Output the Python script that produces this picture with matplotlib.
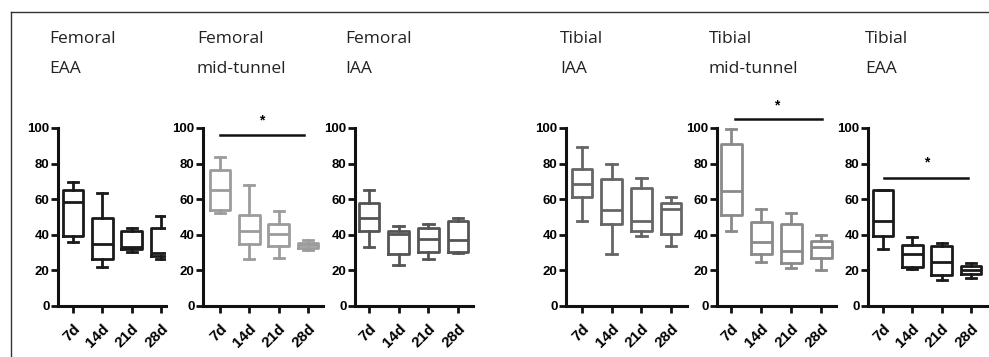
import matplotlib
matplotlib.use("Agg")
import matplotlib.pyplot as plt
from matplotlib.lines import Line2D

W, H = 989, 357

days = ["7d", "14d", "21d", "28d"]

titles = [("Femoral", "EAA"), ("Femoral", "mid-tunnel"), ("Femoral", "IAA"),
          ("Tibial", "IAA"), ("Tibial", "mid-tunnel"), ("Tibial", "EAA")]

# min, q1, median, q3, max for each day
fem_eaa = [(35.7, 39.3, 58.7, 65.4, 69.7),
           (22.0, 26.5, 34.6, 49.2, 63.6),
           (30.3, 31.8, 33.2, 42.0, 43.9),
           (26.5, 28.0, 29.5, 43.6, 50.3)]
fem_mid = [(52.3, 53.8, 65.2, 76.4, 83.9),
           (26.2, 34.6, 41.9, 51.2, 67.7),
           (27.1, 33.6, 40.2, 46.2, 53.3),
           (31.2, 32.7, 34.2, 35.5, 37.0)]
fem_iaa = [(33.0, 42.4, 49.7, 58.0, 65.0),
           (23.0, 29.0, 40.6, 42.0, 44.9),
           (26.2, 30.3, 37.9, 43.9, 46.2),
           (29.9, 30.5, 37.0, 47.5, 49.5)]
tib_iaa = [(47.8, 61.5, 68.5, 76.9, 89.4),
           (29.3, 46.1, 54.0, 71.5, 79.6),
           (39.4, 42.0, 47.6, 66.3, 71.7),
           (33.5, 40.2, 54.6, 58.1, 61.1)]
tib_mid = [(42.4, 51.2, 64.7, 91.0, 99.4),
           (24.6, 29.1, 35.8, 47.3, 54.4),
           (21.6, 24.0, 31.0, 46.3, 52.2),
           (20.3, 26.8, 33.4, 36.6, 40.0)]
tib_eaa = [(32.3, 39.3, 47.5, 65.4, 65.4),
           (20.9, 21.9, 29.0, 34.0, 38.5),
           (14.4, 17.2, 24.9, 33.6, 35.5),
           (15.5, 18.0, 20.0, 22.5, 24.0)]

panels = [fem_eaa, fem_mid, fem_iaa, tib_iaa, tib_mid, tib_eaa]
colors = ["#1a1a1a", "#9c9c9c", "#555555", "#666666", "#8a8a8a", "#1a1a1a"]

# significance bars: (x start, x end, bar y, star x, star y) or None
sig = [None, (0, 2.86, 96.3, 1.43, 100.5), None, None,
       (0.13, 3.03, 105, 1.53, 109), (0.03, 2.9, 72, 1.5, 76.5)]

# layout in pixels: spine x, first tick x, last tick x, axis end x
layout = [(58, 73, 161, 166), (203, 220, 308, 323), (355, 369, 458, 473),
          (566, 582, 671, 687), (717, 731, 821, 836), (868, 883, 971, 987)]
title_x = [49, 197, 345, 560, 709, 865]
y_top, y_bot = 128, 306

plt.rcParams['font.family'] = ['Liberation Sans', 'DejaVu Sans']

fig = plt.figure(figsize=(W / 100, H / 100), dpi=100)

for i, data in enumerate(panels):
    sx, t0, t3, ex = layout[i]
    sp = (t3 - t0) / 3
    ax = fig.add_axes([sx / W, 1 - y_bot / H, (ex - sx) / W, (y_bot - y_top) / H])
    c = colors[i]
    stats = [dict(whislo=d[0], q1=d[1], med=d[2], q3=d[3], whishi=d[4], label=lab)
             for d, lab in zip(data, days)]
    lw = 2.0
    ax.bxp(stats, positions=range(4), widths=0.7, capwidths=0.35,
           showfliers=False, patch_artist=False,
           boxprops=dict(color=c, lw=lw),
           medianprops=dict(color=c, lw=lw),
           whiskerprops=dict(color=c, lw=lw),
           capprops=dict(color=c, lw=lw))
    ax.set_xlim((sx - t0) / sp, (ex - t0) / sp)
    ax.set_ylim(0, 100)
    ax.set_yticks([0, 20, 40, 60, 80, 100])
    ax.set_xticks(range(4))
    ax.set_xticklabels(days, rotation=45, ha='right', va='top',
                       rotation_mode='anchor', fontweight='bold', fontsize=11)
    for lab in ax.get_yticklabels():
        lab.set_fontweight('bold')
        lab.set_fontsize(9.5)
    ax.spines['top'].set_visible(False)
    ax.spines['right'].set_visible(False)
    for s in ('left', 'bottom'):
        ax.spines[s].set_linewidth(2.2)
        ax.spines[s].set_color('#111111')
    ax.tick_params(axis='both', length=5, width=2, color='#111111', pad=1)
    ax.tick_params(axis='x', pad=6)
    ax.patch.set_alpha(0)
    if sig[i] is not None:
        xa, xb, yb, xs, ys = sig[i]
        ax.plot([xa, xb], [yb, yb], color='#111111', lw=1.8, clip_on=False)
        ax.text(xs, ys, "*", ha='center', va='bottom', fontsize=10,
                fontweight='bold', clip_on=False)

    t1, t2 = titles[i]
    fig.text(title_x[i] / W, 1 - 39 / H, t1, ha='left', va='center',
             fontsize=12.5, family=['Open Sans', 'DejaVu Sans'], color='#222222')
    fig.text(title_x[i] / W, 1 - 69 / H, t2, ha='left', va='center',
             fontsize=12.5, family=['Open Sans', 'DejaVu Sans'], color='#222222')

# frame lines at top and left
fig.add_artist(Line2D([10.5 / W, 1], [1 - 11.5 / H, 1 - 11.5 / H],
                      transform=fig.transFigure, color='#333333', lw=1))
fig.add_artist(Line2D([10.5 / W, 10.5 / W], [0, 1 - 11.5 / H],
                      transform=fig.transFigure, color='#333333', lw=1))

fig.savefig("out.png", dpi=100)
